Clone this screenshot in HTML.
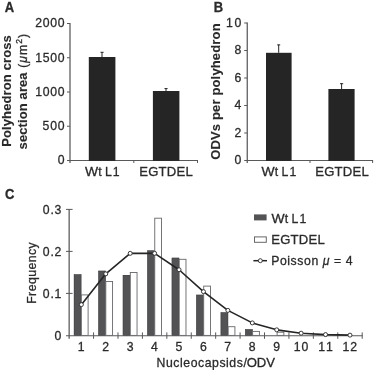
<!DOCTYPE html>
<html><head><meta charset="utf-8"><title>Figure</title>
<style>
html,body{margin:0;padding:0;background:#fff;}
body{width:375px;height:370px;overflow:hidden;}
svg{display:block;will-change:transform;}
text{font-family:"Liberation Sans",sans-serif;fill:#2b2a2b;stroke:#2b2a2b;stroke-width:0.3px;}
</style></head>
<body>
<svg width="375" height="370" viewBox="0 0 375 370">
<rect width="375" height="370" fill="#ffffff"/>
<text transform="translate(4.7 12.2) scale(0.935 1)" font-size="13.9" text-anchor="start" font-weight="bold" stroke="#2b2a2b" stroke-width="0.3">A</text>
<line x1="70.0" y1="23.0" x2="70.0" y2="163" stroke="#58595b" stroke-width="1.25"/>
<line x1="67.0" y1="160.5" x2="198.0" y2="160.5" stroke="#58595b" stroke-width="1.0"/>
<line x1="67.0" y1="23.5" x2="70.0" y2="23.5" stroke="#58595b" stroke-width="1.0"/>
<line x1="67.0" y1="57.75" x2="70.0" y2="57.75" stroke="#58595b" stroke-width="1.0"/>
<line x1="67.0" y1="92.0" x2="70.0" y2="92.0" stroke="#58595b" stroke-width="1.0"/>
<line x1="67.0" y1="126.25" x2="70.0" y2="126.25" stroke="#58595b" stroke-width="1.0"/>
<line x1="133.8" y1="160.5" x2="133.8" y2="163" stroke="#58595b" stroke-width="1.0"/>
<line x1="197.5" y1="160.5" x2="197.5" y2="163" stroke="#58595b" stroke-width="1.0"/>
<text transform="translate(64.6 27.299999999999997) scale(0.935 1)" font-size="13.1" text-anchor="end" font-weight="normal" textLength="31.44" lengthAdjust="spacing" >2000</text>
<text transform="translate(64.6 61.5) scale(0.935 1)" font-size="13.1" text-anchor="end" font-weight="normal" textLength="31.44" lengthAdjust="spacing" >1500</text>
<text transform="translate(64.6 95.7) scale(0.935 1)" font-size="13.1" text-anchor="end" font-weight="normal" textLength="31.44" lengthAdjust="spacing" >1000</text>
<text transform="translate(64.6 129.9) scale(0.935 1)" font-size="13.1" text-anchor="end" font-weight="normal" textLength="23.53" lengthAdjust="spacing" >500</text>
<text transform="translate(64.6 164.20000000000002) scale(0.935 1)" font-size="13.1" text-anchor="end" font-weight="normal" textLength="7.91" lengthAdjust="spacing" >0</text>
<rect x="88.80" y="57.00" width="26.60" height="103.90" fill="#262526"/>
<rect x="152.90" y="91.00" width="26.50" height="69.90" fill="#262526"/>
<line x1="102" y1="52" x2="102" y2="57" stroke="#262526" stroke-width="1"/>
<line x1="100.5" y1="52.3" x2="103.6" y2="52.3" stroke="#262526" stroke-width="1"/>
<line x1="166" y1="88.4" x2="166" y2="91" stroke="#262526" stroke-width="1"/>
<line x1="164.5" y1="88.6" x2="167.6" y2="88.6" stroke="#262526" stroke-width="1"/>
<text transform="translate(84.9 175.8) scale(1.06 1)" font-size="13.1">W</text>
<text transform="translate(98.2 175.8) scale(0.935 1)" font-size="13.1">t</text>
<text transform="translate(104.9 175.8) scale(0.935 1)" font-size="13.1">L</text>
<text transform="translate(112.80000000000001 175.8) scale(0.935 1)" font-size="13.1">1</text>
<text transform="translate(139.2 175.8) scale(1.0 1)" font-size="13.1" text-anchor="start" font-weight="normal" textLength="53.60" lengthAdjust="spacing" >EGTDEL</text>
<text transform="translate(11.4 146.8) rotate(-90) scale(1.0 1)" font-size="13.0" text-anchor="start" font-weight="bold" textLength="111.60" lengthAdjust="spacing" style="stroke-width:0.12px">Polyhedron cross</text>
<text transform="translate(27.3 149.4) rotate(-90) scale(1.0 1)" font-size="13.0" text-anchor="start" font-weight="bold" textLength="77.00" lengthAdjust="spacing" style="stroke-width:0.12px">section area</text>
<text transform="translate(27 67.8) rotate(-90) scale(0.935 1)" font-size="13.1" text-anchor="start" font-weight="normal" textLength="36.36" lengthAdjust="spacing" >(<tspan font-style="italic">&#956;</tspan>m<tspan font-size="9" dy="-4.6">2</tspan><tspan dy="4.6">)</tspan></text>
<text transform="translate(213.7 12.2) scale(0.935 1)" font-size="13.9" text-anchor="start" font-weight="bold" stroke="#2b2a2b" stroke-width="0.3">B</text>
<line x1="247.25" y1="22.5" x2="247.25" y2="163" stroke="#58595b" stroke-width="1.25"/>
<line x1="244.2" y1="160.5" x2="373.1" y2="160.5" stroke="#58595b" stroke-width="1.0"/>
<line x1="244.2" y1="23.0" x2="247.25" y2="23.0" stroke="#58595b" stroke-width="1.0"/>
<line x1="244.2" y1="50.5" x2="247.25" y2="50.5" stroke="#58595b" stroke-width="1.0"/>
<line x1="244.2" y1="78.0" x2="247.25" y2="78.0" stroke="#58595b" stroke-width="1.0"/>
<line x1="244.2" y1="105.5" x2="247.25" y2="105.5" stroke="#58595b" stroke-width="1.0"/>
<line x1="244.2" y1="133.0" x2="247.25" y2="133.0" stroke="#58595b" stroke-width="1.0"/>
<line x1="310" y1="160.5" x2="310" y2="163" stroke="#58595b" stroke-width="1.0"/>
<line x1="372.6" y1="160.5" x2="372.6" y2="163" stroke="#58595b" stroke-width="1.0"/>
<text transform="translate(241.3 26.9) scale(0.935 1)" font-size="13.1" text-anchor="end" font-weight="normal" textLength="16.47" lengthAdjust="spacing" >10</text>
<text transform="translate(241.3 54.4) scale(0.935 1)" font-size="13.1" text-anchor="end" font-weight="normal" textLength="7.91" lengthAdjust="spacing" >8</text>
<text transform="translate(241.3 81.9) scale(0.935 1)" font-size="13.1" text-anchor="end" font-weight="normal" textLength="7.91" lengthAdjust="spacing" >6</text>
<text transform="translate(241.3 109.4) scale(0.935 1)" font-size="13.1" text-anchor="end" font-weight="normal" textLength="7.91" lengthAdjust="spacing" >4</text>
<text transform="translate(241.3 136.9) scale(0.935 1)" font-size="13.1" text-anchor="end" font-weight="normal" textLength="7.91" lengthAdjust="spacing" >2</text>
<text transform="translate(241.3 164.4) scale(0.935 1)" font-size="13.1" text-anchor="end" font-weight="normal" textLength="7.91" lengthAdjust="spacing" >0</text>
<rect x="266.00" y="52.80" width="25.60" height="108.10" fill="#262526"/>
<rect x="328.40" y="89.00" width="26.20" height="71.90" fill="#262526"/>
<line x1="278.7" y1="44.6" x2="278.7" y2="52.8" stroke="#262526" stroke-width="1"/>
<line x1="277.2" y1="44.9" x2="280.2" y2="44.9" stroke="#262526" stroke-width="1"/>
<line x1="341.6" y1="83.4" x2="341.6" y2="89" stroke="#262526" stroke-width="1"/>
<line x1="340" y1="83.7" x2="343.2" y2="83.7" stroke="#262526" stroke-width="1"/>
<text transform="translate(261.5 175.8) scale(1.06 1)" font-size="13.1">W</text>
<text transform="translate(274.8 175.8) scale(0.935 1)" font-size="13.1">t</text>
<text transform="translate(281.5 175.8) scale(0.935 1)" font-size="13.1">L</text>
<text transform="translate(289.4 175.8) scale(0.935 1)" font-size="13.1">1</text>
<text transform="translate(315.2 175.8) scale(1.0 1)" font-size="13.1" text-anchor="start" font-weight="normal" textLength="53.60" lengthAdjust="spacing" >EGTDEL</text>
<text transform="translate(220.0 159.8) rotate(-90) scale(1.0 1)" font-size="13.0" text-anchor="start" font-weight="bold" textLength="136.40" lengthAdjust="spacing" style="stroke-width:0.12px">ODVs per polyhedron</text>
<text transform="translate(5.0 198.9) scale(0.935 1)" font-size="13.9" text-anchor="start" font-weight="bold" stroke="#2b2a2b" stroke-width="0.3">C</text>
<line x1="69.15" y1="208.9" x2="69.15" y2="338.8" stroke="#58595b" stroke-width="1.25"/>
<line x1="66" y1="335.75" x2="362.7" y2="335.75" stroke="#58595b" stroke-width="1.2"/>
<line x1="66" y1="293.4" x2="72.6" y2="293.4" stroke="#58595b" stroke-width="1.0"/>
<line x1="66" y1="251.39999999999998" x2="72.6" y2="251.39999999999998" stroke="#58595b" stroke-width="1.0"/>
<line x1="66" y1="209.39999999999998" x2="72.6" y2="209.39999999999998" stroke="#58595b" stroke-width="1.0"/>
<line x1="93.57000000000001" y1="332.4" x2="93.57000000000001" y2="338.8" stroke="#58595b" stroke-width="1.0"/>
<line x1="117.99000000000001" y1="332.4" x2="117.99000000000001" y2="338.8" stroke="#58595b" stroke-width="1.0"/>
<line x1="142.41000000000003" y1="332.4" x2="142.41000000000003" y2="338.8" stroke="#58595b" stroke-width="1.0"/>
<line x1="166.83" y1="332.4" x2="166.83" y2="338.8" stroke="#58595b" stroke-width="1.0"/>
<line x1="191.25" y1="332.4" x2="191.25" y2="338.8" stroke="#58595b" stroke-width="1.0"/>
<line x1="215.67000000000002" y1="332.4" x2="215.67000000000002" y2="338.8" stroke="#58595b" stroke-width="1.0"/>
<line x1="240.09" y1="332.4" x2="240.09" y2="338.8" stroke="#58595b" stroke-width="1.0"/>
<line x1="264.51" y1="332.4" x2="264.51" y2="338.8" stroke="#58595b" stroke-width="1.0"/>
<line x1="288.93000000000006" y1="332.4" x2="288.93000000000006" y2="338.8" stroke="#58595b" stroke-width="1.0"/>
<line x1="313.35" y1="332.4" x2="313.35" y2="338.8" stroke="#58595b" stroke-width="1.0"/>
<line x1="337.77" y1="332.4" x2="337.77" y2="338.8" stroke="#58595b" stroke-width="1.0"/>
<line x1="362.19000000000005" y1="332.4" x2="362.19000000000005" y2="338.8" stroke="#58595b" stroke-width="1.0"/>
<text transform="translate(61.4 213.7) scale(0.935 1)" font-size="13.1" text-anchor="end" font-weight="normal" textLength="19.89" lengthAdjust="spacing" >0.3</text>
<text transform="translate(61.4 255.7) scale(0.935 1)" font-size="13.1" text-anchor="end" font-weight="normal" textLength="19.89" lengthAdjust="spacing" >0.2</text>
<text transform="translate(61.4 297.7) scale(0.935 1)" font-size="13.1" text-anchor="end" font-weight="normal" textLength="19.89" lengthAdjust="spacing" >0.1</text>
<text transform="translate(61.4 339.7) scale(0.935 1)" font-size="13.1" text-anchor="end" font-weight="normal" textLength="7.91" lengthAdjust="spacing" >0</text>
<text transform="translate(36.3 303.8) rotate(-90) scale(0.935 1)" font-size="13.1" text-anchor="start" font-weight="normal" textLength="65.67" lengthAdjust="spacing" >Frequency</text>
<rect x="73.90" y="274.40" width="7.40" height="61.00" fill="#535356"/>
<rect x="74.15" y="274.65" width="6.90" height="60.75" fill="none" stroke="#414143" stroke-width="0.5"/>
<rect x="81.35" y="294.90" width="6.75" height="40.50" fill="#ffffff" stroke="#66676a" stroke-width="0.9"/>
<rect x="98.37" y="270.80" width="7.40" height="64.60" fill="#535356"/>
<rect x="98.62" y="271.05" width="6.90" height="64.35" fill="none" stroke="#414143" stroke-width="0.5"/>
<rect x="105.82" y="281.50" width="6.75" height="53.90" fill="#ffffff" stroke="#66676a" stroke-width="0.9"/>
<rect x="122.84" y="275.00" width="7.40" height="60.40" fill="#535356"/>
<rect x="123.09" y="275.25" width="6.90" height="60.15" fill="none" stroke="#414143" stroke-width="0.5"/>
<rect x="130.29" y="272.50" width="6.75" height="62.90" fill="#ffffff" stroke="#66676a" stroke-width="0.9"/>
<rect x="147.31" y="250.50" width="7.40" height="84.90" fill="#535356"/>
<rect x="147.56" y="250.75" width="6.90" height="84.65" fill="none" stroke="#414143" stroke-width="0.5"/>
<rect x="154.76" y="218.20" width="6.75" height="117.20" fill="#ffffff" stroke="#66676a" stroke-width="0.9"/>
<rect x="171.78" y="257.80" width="7.40" height="77.60" fill="#535356"/>
<rect x="172.03" y="258.05" width="6.90" height="77.35" fill="none" stroke="#414143" stroke-width="0.5"/>
<rect x="179.23" y="259.30" width="6.75" height="76.10" fill="#ffffff" stroke="#66676a" stroke-width="0.9"/>
<rect x="196.25" y="294.80" width="7.40" height="40.60" fill="#535356"/>
<rect x="196.50" y="295.05" width="6.90" height="40.35" fill="none" stroke="#414143" stroke-width="0.5"/>
<rect x="203.70" y="286.10" width="6.75" height="49.30" fill="#ffffff" stroke="#66676a" stroke-width="0.9"/>
<rect x="220.72" y="312.40" width="7.40" height="23.00" fill="#535356"/>
<rect x="220.97" y="312.65" width="6.90" height="22.75" fill="none" stroke="#414143" stroke-width="0.5"/>
<rect x="228.17" y="326.70" width="6.75" height="8.70" fill="#ffffff" stroke="#66676a" stroke-width="0.9"/>
<rect x="245.19" y="329.30" width="7.40" height="6.10" fill="#535356"/>
<rect x="245.44" y="329.55" width="6.90" height="5.85" fill="none" stroke="#414143" stroke-width="0.5"/>
<rect x="252.64" y="331.40" width="6.75" height="4.00" fill="#ffffff" stroke="#66676a" stroke-width="0.9"/>
<rect x="277.11" y="332.20" width="6.75" height="3.20" fill="#ffffff" stroke="#66676a" stroke-width="0.9"/>
<polyline fill="none" stroke="#262526" stroke-width="1.6" stroke-linejoin="round" points="81.36,304.63 105.78,273.86 130.20,253.35 154.62,253.35 179.04,269.76 203.46,291.64 227.88,310.39 252.30,322.90 276.72,329.84 301.14,333.18 325.56,334.59 349.98,335.13"/>
<circle cx="81.36" cy="304.63" r="2.0" fill="#fff" stroke="#262526" stroke-width="0.9"/>
<circle cx="105.78" cy="273.86" r="2.0" fill="#fff" stroke="#262526" stroke-width="0.9"/>
<circle cx="130.20" cy="253.35" r="2.0" fill="#fff" stroke="#262526" stroke-width="0.9"/>
<circle cx="154.62" cy="253.35" r="2.0" fill="#fff" stroke="#262526" stroke-width="0.9"/>
<circle cx="179.04" cy="269.76" r="2.0" fill="#fff" stroke="#262526" stroke-width="0.9"/>
<circle cx="203.46" cy="291.64" r="2.0" fill="#fff" stroke="#262526" stroke-width="0.9"/>
<circle cx="227.88" cy="310.39" r="2.0" fill="#fff" stroke="#262526" stroke-width="0.9"/>
<circle cx="252.30" cy="322.90" r="2.0" fill="#fff" stroke="#262526" stroke-width="0.9"/>
<circle cx="276.72" cy="329.84" r="2.0" fill="#fff" stroke="#262526" stroke-width="0.9"/>
<circle cx="301.14" cy="333.18" r="2.0" fill="#fff" stroke="#262526" stroke-width="0.9"/>
<circle cx="325.56" cy="334.59" r="2.0" fill="#fff" stroke="#262526" stroke-width="0.9"/>
<circle cx="349.98" cy="335.13" r="2.0" fill="#fff" stroke="#262526" stroke-width="0.9"/>
<text transform="translate(81.26000000000002 350.6) scale(0.935 1)" font-size="13.1" text-anchor="middle" font-weight="normal" textLength="7.91" lengthAdjust="spacing" >1</text>
<text transform="translate(105.68 350.6) scale(0.935 1)" font-size="13.1" text-anchor="middle" font-weight="normal" textLength="7.91" lengthAdjust="spacing" >2</text>
<text transform="translate(130.10000000000002 350.6) scale(0.935 1)" font-size="13.1" text-anchor="middle" font-weight="normal" textLength="7.91" lengthAdjust="spacing" >3</text>
<text transform="translate(154.52 350.6) scale(0.935 1)" font-size="13.1" text-anchor="middle" font-weight="normal" textLength="7.91" lengthAdjust="spacing" >4</text>
<text transform="translate(178.94000000000003 350.6) scale(0.935 1)" font-size="13.1" text-anchor="middle" font-weight="normal" textLength="7.91" lengthAdjust="spacing" >5</text>
<text transform="translate(203.36 350.6) scale(0.935 1)" font-size="13.1" text-anchor="middle" font-weight="normal" textLength="7.91" lengthAdjust="spacing" >6</text>
<text transform="translate(227.78000000000003 350.6) scale(0.935 1)" font-size="13.1" text-anchor="middle" font-weight="normal" textLength="7.91" lengthAdjust="spacing" >7</text>
<text transform="translate(252.20000000000002 350.6) scale(0.935 1)" font-size="13.1" text-anchor="middle" font-weight="normal" textLength="7.91" lengthAdjust="spacing" >8</text>
<text transform="translate(276.62 350.6) scale(0.935 1)" font-size="13.1" text-anchor="middle" font-weight="normal" textLength="7.91" lengthAdjust="spacing" >9</text>
<text transform="translate(301.03999999999996 350.6) scale(0.935 1)" font-size="13.1" text-anchor="middle" font-weight="normal" textLength="15.61" lengthAdjust="spacing" >10</text>
<text transform="translate(325.46000000000004 350.6) scale(0.935 1)" font-size="13.1" text-anchor="middle" font-weight="normal" textLength="15.61" lengthAdjust="spacing" >11</text>
<text transform="translate(349.88 350.6) scale(0.935 1)" font-size="13.1" text-anchor="middle" font-weight="normal" textLength="15.61" lengthAdjust="spacing" >12</text>
<text transform="translate(156.6 366.6) scale(0.935 1)" font-size="13.1" text-anchor="start" font-weight="normal" textLength="96.47" lengthAdjust="spacing" >Nucleocapsids/</text>
<text transform="translate(246.7 366.6) scale(1.0 1)" font-size="13.1" text-anchor="start" font-weight="normal" textLength="28.30" lengthAdjust="spacing" >ODV</text>
<rect x="254.00" y="214.40" width="12.60" height="6.00" fill="#535356"/>
<rect x="254.50" y="236.90" width="11.80" height="5.40" fill="#fff" stroke="#66676a" stroke-width="1"/>
<line x1="253.4" y1="260.7" x2="267" y2="260.7" stroke="#262526" stroke-width="1.5"/>
<circle cx="260.3" cy="260.7" r="2.0" fill="#fff" stroke="#262526" stroke-width="0.9"/>
<text transform="translate(271.5 222.5) scale(1.06 1)" font-size="13.1">W</text>
<text transform="translate(284.8 222.5) scale(0.935 1)" font-size="13.1">t</text>
<text transform="translate(291.5 222.5) scale(0.935 1)" font-size="13.1">L</text>
<text transform="translate(299.4 222.5) scale(0.935 1)" font-size="13.1">1</text>
<text transform="translate(271.2 244.2) scale(1.0 1)" font-size="13.1" text-anchor="start" font-weight="normal" textLength="53.60" lengthAdjust="spacing" >EGTDEL</text>
<text transform="translate(271.2 264.6) scale(0.935 1)" font-size="13.1" text-anchor="start" font-weight="normal" textLength="87.06" lengthAdjust="spacing" >Poisson <tspan font-style="italic">&#956;</tspan> = 4</text>
</svg>
</body></html>
